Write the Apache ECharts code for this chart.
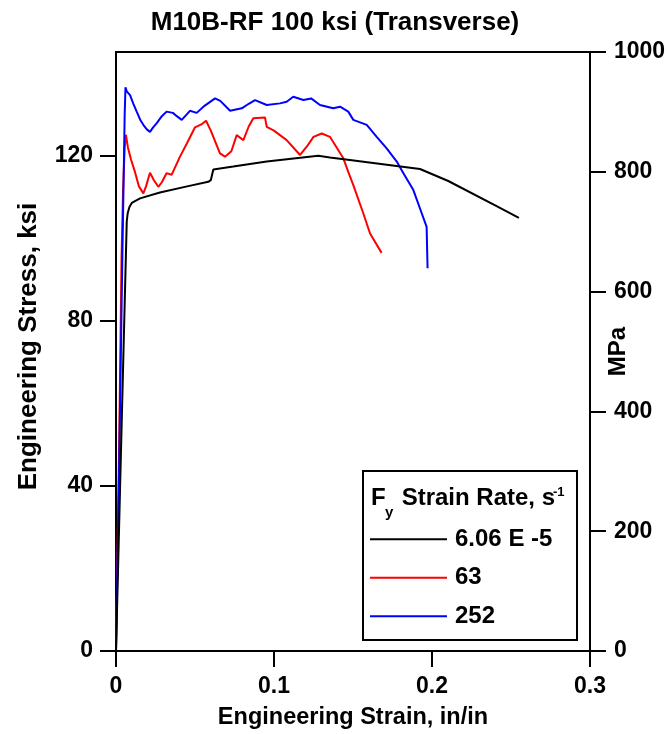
<!DOCTYPE html>
<html>
<head>
<meta charset="utf-8">
<script src="https://cdn.jsdelivr.net/npm/echarts@6/dist/echarts.min.js"></script>
<style>
html,body{margin:0;padding:0;background:#fff;}
#chart{width:670px;height:734px;}
</style>
</head>
<body>
<div id="chart"></div>
<script>
// ---- data (strain in/in, stress ksi) ----
const titleText = 'M10B-RF 100 ksi (Transverse)';
const xTicks = [0, 0.1, 0.2, 0.3];
const ksiTicks = [0, 40, 80, 120];
const mpaTicks = [0, 200, 400, 600, 800, 1000];
const seriesNames = ['6.06 E -5', '63', '252'];

const black = [[0,0],[0.003,46],[0.0068,104],[0.0074,106],[0.0085,107.5],[0.0100,108.5],[0.0152,109.6],
  [0.0278,111],[0.045,112.5],[0.0584,113.6],[0.0600,114],[0.0616,116.6],[0.0742,117.3],[0.0954,118.5],
  [0.128,119.9],[0.1354,119.5],[0.148,118.9],[0.1924,116.7],[0.2103,113.8],[0.2409,107.7],[0.255,104.9]];

const red = [[0,0],[0.002,50],[0.0035,95],[0.0045,112],[0.0055,122],[0.0063,125],[0.0075,122],[0.0095,119],
  [0.012,116],[0.0145,112.5],[0.0173,110.8],[0.019,112.5],[0.0215,115.8],[0.024,114],[0.0268,112.4],
  [0.029,113.5],[0.032,115.7],[0.0352,115.3],[0.0405,119.7],[0.045,123],[0.05,126.8],[0.054,127.5],
  [0.057,128.4],[0.060,126],[0.0658,120.5],[0.069,119.7],[0.073,121],[0.0764,124.9],[0.0806,123.7],
  [0.084,127],[0.0869,129],[0.0943,129.2],[0.0954,126.9],[0.1,126],[0.108,123.7],[0.1165,120.1],
  [0.1207,122.1],[0.125,124.5],[0.1302,125.3],[0.1354,124.5],[0.1439,119.3],[0.147,116],[0.1502,112.8],
  [0.1565,106],[0.1608,101.1],[0.1681,96.4]];

const blue = [[0,0],[0.002,45],[0.004,95],[0.005,118],[0.0055,130],[0.006,136.5],[0.0068,135.5],
  [0.0078,135.8],[0.0089,134.6],[0.011,132.5],[0.0131,130.6],[0.0155,128.5],[0.0173,127.4],[0.0195,126.3],
  [0.0215,125.7],[0.0235,126.8],[0.0258,127.8],[0.029,129.5],[0.032,130.6],[0.036,130.3],[0.0385,129.5],
  [0.0416,128.6],[0.0445,129.8],[0.0468,130.8],[0.0511,130.3],[0.056,132],[0.0627,133.8],[0.066,133.2],
  [0.0722,130.8],[0.0796,131.4],[0.084,132.5],[0.088,133.4],[0.0954,132.2],[0.1038,132.6],[0.108,133],
  [0.1122,134.2],[0.1186,133.4],[0.1235,133.8],[0.1291,132.2],[0.1375,131.4],[0.1418,131.8],[0.147,130.6],
  [0.1502,128.6],[0.1587,127.4],[0.165,124.5],[0.1713,121.7],[0.1777,118.5],[0.1819,115.7],[0.1882,111.6],
  [0.1935,106],[0.1966,102.7],[0.1972,92.7]];

const MPA_PER_KSI = 6.894757;
const FONT = '"Liberation Sans", Arial, sans-serif';

const chart = echarts.init(document.getElementById('chart'), null, {renderer: 'canvas'});
const axisCommon = {
  axisLine: {show: true, lineStyle: {color: '#000', width: 2}},
  axisTick: {show: true, inside: false, length: 16, lineStyle: {color: '#000', width: 2}},
  splitLine: {show: false},
  nameMoveOverlap: false,
  nameTextStyle: {color: '#000', fontFamily: FONT, fontWeight: 'bold', fontSize: 23.5},
};
const labelStyle = {color: '#000', fontFamily: FONT, fontWeight: 'bold', fontSize: 23};

chart.setOption({
  backgroundColor: '#fff',
  animation: false,
  title: {
    text: titleText, left: 'center', top: 5,
    textStyle: {color: '#000', fontFamily: FONT, fontWeight: 'bold', fontSize: 26}
  },
  grid: {left: 116, right: 80, top: 52, bottom: 83, show: true, borderColor: '#000', borderWidth: 2,
         backgroundColor: 'transparent', outerBoundsMode: 'none', containLabel: false},
  xAxis: Object.assign({}, axisCommon, {
    type: 'value', min: 0, max: 0.3, interval: 0.1,
    name: 'Engineering Strain, in/in', nameLocation: 'middle', nameGap: 55,
    axisTick: Object.assign({}, axisCommon.axisTick, {customValues: xTicks}),
    axisLabel: Object.assign({}, labelStyle, {margin: 24, customValues: xTicks, formatter: v => String(v)})
  }),
  yAxis: [
    Object.assign({}, axisCommon, {
      type: 'value', position: 'left', min: 0, max: 1000 / MPA_PER_KSI,
      name: 'Engineering Stress, ksi', nameLocation: 'middle', nameGap: 74, nameRotate: 90,
      nameTextStyle: {color: '#000', fontFamily: FONT, fontWeight: 'bold', fontSize: 26, padding: [0, 0, 0, 10]},
      axisTick: Object.assign({}, axisCommon.axisTick, {customValues: ksiTicks}),
      axisLabel: Object.assign({}, labelStyle, {margin: 23, customValues: ksiTicks, formatter: v => String(v)})
    }),
    Object.assign({}, axisCommon, {
      type: 'value', position: 'right', min: 0, max: 1000, interval: 200,
      name: 'MPa', nameLocation: 'middle', nameGap: 16, nameRotate: 90,
      nameTextStyle: {color: '#000', fontFamily: FONT, fontWeight: 'bold', fontSize: 24},
      axisTick: Object.assign({}, axisCommon.axisTick, {customValues: mpaTicks}),
      axisLabel: Object.assign({}, labelStyle, {margin: 24, customValues: mpaTicks, formatter: v => String(v)})
    })
  ],
  legend: {
    orient: 'vertical', left: 370, top: 520, padding: 0, itemGap: 0,
    icon: 'rect', itemWidth: 77, itemHeight: 2,
    selectedMode: false,
    textStyle: {color: '#000', fontFamily: FONT, fontWeight: 'bold', fontSize: 24, lineHeight: 38.5, padding: [0, 0, 0, 3]},
    data: seriesNames
  },
  graphic: [
    {type: 'rect', z: 3, shape: {x: 363, y: 471, width: 214, height: 169},
     style: {fill: '#fff', stroke: '#000', lineWidth: 2}},
    {type: 'text', z: 5, x: 371, y: 498, style: {text: 'F', font: 'bold 24px ' + FONT, fill: '#000', verticalAlign: 'middle'}},
    {type: 'text', z: 5, x: 385, y: 513, style: {text: 'y', font: 'bold 15px ' + FONT, fill: '#000', verticalAlign: 'middle'}},
    {type: 'text', z: 5, x: 395, y: 498, style: {text: ' Strain Rate, s', font: 'bold 24px ' + FONT, fill: '#000', verticalAlign: 'middle'}},
    {type: 'text', z: 5, x: 553, y: 492, style: {text: '-1', font: 'bold 13px ' + FONT, fill: '#000', verticalAlign: 'middle'}}
  ],
  series: [
    {name: seriesNames[0], type: 'line', data: black, yAxisIndex: 0, showSymbol: false, symbol: 'none',
     lineStyle: {color: '#000', width: 2}, itemStyle: {color: '#000'}, z: 3},
    {name: seriesNames[1], type: 'line', data: red, yAxisIndex: 0, showSymbol: false, symbol: 'none',
     lineStyle: {color: '#ff0000', width: 2}, itemStyle: {color: '#ff0000'}, z: 2},
    {name: seriesNames[2], type: 'line', data: blue, yAxisIndex: 0, showSymbol: false, symbol: 'none',
     lineStyle: {color: '#0000ff', width: 2}, itemStyle: {color: '#0000ff'}, z: 2}
  ]
});
</script>
</body>
</html>
